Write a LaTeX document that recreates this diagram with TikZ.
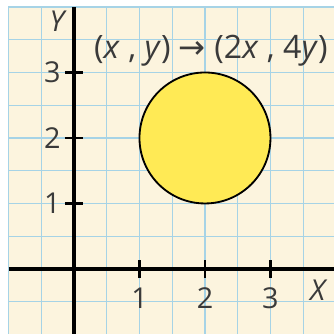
\documentclass[tikz,border=0pt]{standalone}
\usepackage{fontspec}
\setmainfont{Open Sans}
\newfontfamily\arrowfont{DejaVu Sans}
\definecolor{paper}{HTML}{FCF4DE}
\definecolor{gridblue}{HTML}{A6D3E6}
\definecolor{disc}{HTML}{FFEA55}
\definecolor{ink}{HTML}{3A3A3A}
\begin{document}
\begin{tikzpicture}[x=1cm,y=1cm,
  lbl/.style={text=ink,font=\fontsize{12.5}{14}\selectfont,inner sep=0pt},
  axis/.style={line width=2pt,black},
  tick/.style={line width=0.9pt,black}]
\useasboundingbox (-1.13,-0.99) rectangle (3.97,4.107);
\fill[white] (-1.13,-0.99) rectangle (3.97,4.107);
\fill[paper] (-1,-0.99) rectangle (3.97,4);
\draw[gridblue,line width=0.6pt] (-1,-0.99) grid[step=0.5] (3.97,4);
\draw[gridblue,line width=0.6pt] (-1,-0.99) -- (-1,4) -- (3.97,4);
\fill[disc] (2,2) circle (1);
\draw[black,line width=0.8pt] (2,2) circle (1);
\coordinate (xl) at (-1,0);
\coordinate (xr) at (3.97,0);
\coordinate (yb) at (0,-0.99);
\coordinate (yt) at (0,4);
\draw[axis] (xl) -- (xr);
\draw[axis] (yb) -- (yt);
\foreach \i in {1,2,3}{
  \draw[tick] (\i,-0.14) -- (\i,0.14);
  \draw[tick] (-0.14,\i) -- (0.14,\i);
  \node[lbl] (ylab\i) at (-0.33,\i) {\i};
  \node[lbl] (xlab\i) at (\i,-0.44) {\i};
}
\node[lbl] (X) at (3.72,-0.32) {\itshape X};
\node[lbl] (Y) at (-0.26,3.78) {\itshape Y};
\node[lbl,font=\fontsize{14}{16}\selectfont] (rule) at (2.09,3.34) {(\textit{x} , \textit{y}) {\arrowfont →} (2\textit{x} , 4\textit{y})};
\end{tikzpicture}
\end{document}
